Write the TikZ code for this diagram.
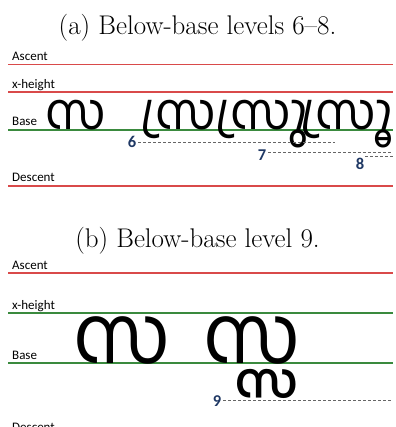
\documentclass[tikz,border=0pt]{standalone}
\usepackage{fontspec}
\newfontfamily\mal[Script=Malayalam]{Hind Kochi}
\newfontfamily\lbl{Carlito}
\definecolor{lred}{HTML}{D94A4A}
\definecolor{lgreen}{HTML}{3A8A3E}
\definecolor{navy}{HTML}{1F3864}
\begin{document}
\begin{tikzpicture}[x=1pt,y=-1pt,
  guide/.style={line width=1.1pt},
  redline/.style={guide, draw=lred},
  greenline/.style={guide, draw=lgreen},
  lvl/.style={draw=gray!80!black, line width=0.8pt, dash pattern=on 3pt off 2pt},
  lab/.style={font=\lbl\fontsize{13}{15}\selectfont, anchor=base west, inner sep=0},
  num/.style={font=\lbl\bfseries\fontsize{16.5}{18}\selectfont, text=navy, inner sep=0},
  glyphA/.style={font=\mal\fontsize{50}{56}\selectfont, anchor=base, inner sep=0},
  glyphB/.style={font=\mal\fontsize{80}{88}\selectfont, anchor=base, inner sep=0},
  captxt/.style={font=\fontsize{27}{30}\selectfont, inner sep=0, anchor=base}]
\useasboundingbox (0,0) rectangle (395,427);
% ---------- (a)
\node[captxt] (capA) at (197.5,35) {(a) Below-base levels 6--8.};
\node[lab] (ascA) at (12,61) {Ascent};
\node[lab] (xhA) at (12,89) {x-height};
\node[lab] (baseA) at (12,126) {Base};
\node[lab] (descA) at (12,182) {Descent};
\draw[redline] (8,64.5) coordinate (a1) -- (393,64.5) coordinate (a2);
\draw[redline] (8,92) coordinate (x1) -- (393,92) coordinate (x2);
\draw[greenline] (8,130) coordinate (b1) -- (393,130) coordinate (b2);
\draw[redline] (8,186) coordinate (d1) -- (393,186) coordinate (d2);
\node[glyphA] (g1) at (76,130) {സ};
\node[glyphA, anchor=base west] (g2) at (140,130) {സ്ര};
\node[glyphA, anchor=base east] (g3) at (308,130) {സ്രു};
\node[glyphA, anchor=base east] (g4) at (393,130) {സ്രൂ};
\node[num] (n6) at (132,142) {6};
\node[num] (n7) at (262,155) {7};
\node[num] (n8) at (360,164) {8};
\coordinate (e6) at (335,142);
\coordinate (e7) at (393,152);
\coordinate (s8) at (365,156);
\coordinate (e8) at (393,156);
\draw[lvl] ([xshift=2pt]n6.east) -- (e6);
\draw[lvl] ([xshift=2pt]n7.east |- e7) -- (e7);
\draw[lvl] (s8) -- (e8);
% ---------- (b)
\node[captxt] (capB) at (197.5,247) {(b) Below-base level 9.};
\node[lab] (ascB) at (12,269) {Ascent};
\node[lab] (xhB) at (12,309) {x-height};
\node[lab] (baseB) at (12,359) {Base};
\node[lab] (descB) at (12,431) {Descent};
\draw[redline] (8,273) coordinate (a3) -- (393,273) coordinate (a4);
\draw[greenline] (8,313) coordinate (x3) -- (393,313) coordinate (x4);
\draw[greenline] (8,363) coordinate (b3) -- (393,363) coordinate (b4);
\node[glyphB] (g5) at (122,363) {സ};
\node[glyphB] (g6) at (252,363) {സ്സ};
\node[num] (n9) at (217,401) {9};
\coordinate (e9) at (393,400);
\draw[lvl] ([xshift=2pt]n9.east |- e9) -- (e9);
\end{tikzpicture}
\end{document}
